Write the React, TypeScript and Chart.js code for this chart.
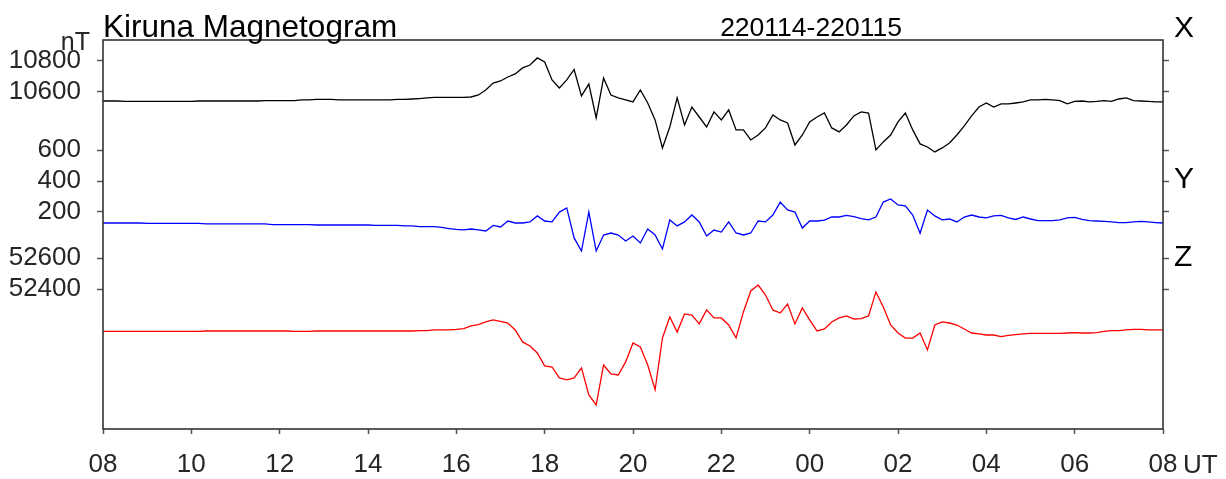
import React, { useEffect, useRef } from "react";
import { Chart, registerables } from "chart.js";

Chart.register(...registerables);

// ---------- text ----------
const TITLE = "Kiruna Magnetogram";
const DATE_RANGE = "220114-220115";
const UNIT = "nT";
const COMPONENT_NAMES = ["X", "Y", "Z"];
const TIME_UNIT = "UT";
const HOUR_LABELS = ["08", "10", "12", "14", "16", "18", "20", "22", "00", "02", "04", "06", "08"];

// ---------- data (10-minute samples from 08 UT) ----------
const SAMPLE_MINUTES = 10;

const X_NT = [
  10540, 10540, 10540, 10537, 10537, 10537, 10537, 10537, 10537, 10537,
  10537, 10537, 10537, 10540, 10540, 10540, 10540, 10540, 10540, 10540,
  10540, 10540, 10543, 10543, 10543, 10543, 10543, 10547, 10547, 10550,
  10550, 10550, 10547, 10547, 10547, 10547, 10547, 10547, 10547, 10547,
  10550, 10550, 10553, 10556, 10560, 10563, 10563, 10563, 10563, 10563,
  10566, 10579, 10612, 10657, 10670, 10696, 10716, 10755, 10774, 10820,
  10794, 10677, 10625, 10677, 10745, 10573, 10650, 10430, 10690, 10579,
  10560, 10547, 10534, 10612, 10527, 10417, 10235, 10371, 10560, 10384,
  10501, 10436, 10371, 10469, 10417, 10482, 10352, 10352, 10287, 10319,
  10365, 10449, 10417, 10397, 10254, 10319, 10404, 10436, 10462, 10365,
  10339, 10384, 10443, 10469, 10462, 10222, 10274, 10319, 10404, 10462,
  10352, 10261, 10241, 10209, 10235, 10267, 10319, 10378, 10443, 10501,
  10527, 10501, 10521, 10521, 10527, 10534, 10547, 10547, 10550, 10547,
  10543, 10521, 10537, 10540, 10534, 10537, 10543, 10537, 10553, 10560,
  10543, 10540, 10537, 10534, 10534,
];

const Y_NT = [
  127, 127, 127, 127, 127, 127, 124, 124, 124, 124,
  124, 124, 124, 124, 121, 121, 121, 121, 121, 121,
  121, 121, 121, 117, 117, 117, 117, 117, 117, 114,
  114, 114, 114, 114, 114, 114, 114, 111, 111, 111,
  111, 108, 108, 104, 104, 103, 98, 91, 85, 82,
  88, 82, 75, 111, 101, 140, 127, 127, 134, 173,
  140, 134, 198, 225, 30, -55, 198, -55, 49, 62,
  49, 10, 42, -3, 88, 49, -42, 147, 108, 134,
  179, 134, 42, 81, 68, 134, 62, 49, 62, 140,
  134, 179, 263, 212, 198, 94, 140, 140, 146, 166,
  166, 176, 169, 156, 147, 166, 263, 283, 244, 238,
  179, 60, 211, 173, 147, 153, 134, 166, 179, 166,
  160, 173, 176, 160, 150, 166, 153, 143, 143, 143,
  147, 160, 163, 150, 143, 140, 137, 134, 130, 130,
  134, 137, 134, 130, 127,
];

const Z_NT = [
  52124, 52124, 52124, 52124, 52124, 52124, 52124, 52124, 52124, 52124,
  52124, 52124, 52124, 52124, 52127, 52127, 52127, 52127, 52127, 52127,
  52127, 52127, 52127, 52127, 52127, 52127, 52124, 52124, 52124, 52127,
  52127, 52127, 52127, 52127, 52127, 52127, 52127, 52127, 52127, 52127,
  52127, 52127, 52127, 52130, 52130, 52134, 52134, 52134, 52137, 52143,
  52160, 52169, 52186, 52199, 52189, 52179, 52134, 52056, 52030, 51984,
  51900, 51893, 51822, 51809, 51822, 51887, 51711, 51646, 51906, 51848,
  51841, 51926, 52049, 52023, 51906, 51745, 52082, 52218, 52120, 52238,
  52231, 52173, 52264, 52212, 52212, 52166, 52082, 52251, 52387, 52426,
  52361, 52264, 52244, 52303, 52173, 52277, 52199, 52127, 52140, 52186,
  52212, 52225, 52205, 52208, 52225, 52381, 52283, 52166, 52114, 52081,
  52081, 52114, 52004, 52166, 52186, 52179, 52166, 52140, 52114, 52108,
  52101, 52101, 52091, 52098, 52104, 52108, 52111, 52111, 52111, 52111,
  52111, 52114, 52117, 52114, 52114, 52117, 52124, 52130, 52130, 52134,
  52137, 52137, 52134, 52134, 52134,
];

// tick labels of each component (nT)
const X_TICKS = [10800, 10600];
const Y_TICKS = [600, 400, 200];
const Z_TICKS = [52600, 52400];

// ---------- stacking of the three panels on a shared nT scale ----------
const X_SHIFT = 0;
const Y_SHIFT = 9620;
const Z_SHIFT = -43082;
const AXIS_MAX = 10936.5;
const AXIS_MIN = 8408;

const FONT = '"Liberation Sans", Arial, Helvetica, sans-serif';
const TEXT_COLOR = "#262626";
const FRAME_COLOR = "#333333";

const tickEntries = [
  ...X_TICKS.map((t) => ({ value: t + X_SHIFT, label: String(t) })),
  ...Y_TICKS.map((t) => ({ value: t + Y_SHIFT, label: String(t) })),
  ...Z_TICKS.map((t) => ({ value: t + Z_SHIFT, label: String(t) })),
];

const toPoints = (arr: number[], shift: number) =>
  arr.map((v, i) => ({ x: (i * SAMPLE_MINUTES) / 60, y: v + shift }));

const decorPlugin = {
  id: "decor",
  afterDraw(chart: any) {
    const { ctx, chartArea } = chart;
    ctx.save();
    // frame
    ctx.strokeStyle = FRAME_COLOR;
    ctx.lineWidth = 1.6;
    ctx.strokeRect(chartArea.left, chartArea.top, chartArea.right - chartArea.left, chartArea.bottom - chartArea.top);

    ctx.fillStyle = "#000";
    ctx.textBaseline = "alphabetic";
    ctx.textAlign = "left";
    ctx.font = `31.5px ${FONT}`;
    ctx.fillText(TITLE, chartArea.left, 37);

    ctx.textAlign = "center";
    ctx.font = `26.5px ${FONT}`;
    ctx.fillText(DATE_RANGE, 811, 36);

    ctx.fillStyle = TEXT_COLOR;
    ctx.textAlign = "right";
    ctx.font = `25px ${FONT}`;
    ctx.fillText(UNIT, 90, 50);

    // component names at right
    ctx.fillStyle = "#000";
    ctx.textAlign = "left";
    ctx.textBaseline = "middle";
    ctx.font = `30px ${FONT}`;
    const ys = [29, 180, 258];
    COMPONENT_NAMES.forEach((n, i) => ctx.fillText(n, chartArea.right + 11, ys[i]));

    // UT after last hour label
    ctx.fillStyle = TEXT_COLOR;
    ctx.font = `26px ${FONT}`;
    ctx.fillText(TIME_UNIT, chartArea.right + 20, 466);
    ctx.restore();
  },
};

export default function App() {
  const ref = useRef<HTMLCanvasElement | null>(null);

  useEffect(() => {
    if (!ref.current) return;
    const yTickCommon = {
      type: "linear" as const,
      min: AXIS_MIN,
      max: AXIS_MAX,
      afterBuildTicks: (s: any) => {
        s.ticks = tickEntries.map((t) => ({ value: t.value }));
      },
      grid: {
        drawOnChartArea: false,
        drawTicks: true,
        tickLength: 6,
        tickColor: "#555",
        tickWidth: 1.5,
      },
      border: { display: false },
    };
    const chart = new Chart(ref.current, {
      type: "line",
      data: {
        datasets: [
          { data: toPoints(X_NT, X_SHIFT), borderColor: "#000000", borderWidth: 1.3, pointRadius: 0, tension: 0 },
          { data: toPoints(Y_NT, Y_SHIFT), borderColor: "#0000ff", borderWidth: 1.3, pointRadius: 0, tension: 0 },
          { data: toPoints(Z_NT, Z_SHIFT), borderColor: "#ff0000", borderWidth: 1.3, pointRadius: 0, tension: 0 },
        ],
      },
      options: {
        responsive: false,
        animation: false,
        parsing: false,
        layout: { padding: { top: 40, left: 0, right: 0, bottom: 0 } },
        plugins: { legend: { display: false }, tooltip: { enabled: false }, title: { display: false } },
        scales: {
          x: {
            type: "linear",
            position: "bottom",
            min: 0,
            max: 24,
            afterBuildTicks: (s: any) => {
              s.ticks = HOUR_LABELS.map((_, i) => ({ value: i * 2 }));
            },
            afterFit: (s: any) => {
              s.height = 50;
            },
            ticks: {
              autoSkip: false,
              maxRotation: 0,
              padding: 15,
              color: TEXT_COLOR,
              font: { family: FONT, size: 26 },
              callback: (_v: any, i: number) => HOUR_LABELS[i],
            },
            grid: { drawOnChartArea: false, drawTicks: true, tickLength: 5, tickColor: "#555", tickWidth: 1.5 },
            border: { display: false },
          },
          y: {
            ...yTickCommon,
            position: "left",
            afterFit: (s: any) => {
              s.width = 103;
            },
            ticks: {
              autoSkip: false,
              padding: 16,
              color: TEXT_COLOR,
              font: { family: FONT, size: 26 },
              callback: (_v: any, i: number) => tickEntries[i]?.label ?? "",
            },
          },
          y2: {
            ...yTickCommon,
            position: "right",
            afterFit: (s: any) => {
              s.width = 63;
            },
            ticks: { display: false, autoSkip: false },
          },
        },
      } as any,
      plugins: [decorPlugin],
    });
    return () => chart.destroy();
  }, []);

  return (
    <div style={{ position: "absolute", left: 0, top: 0, width: 1226, height: 479, background: "#fff" }}>
      <canvas ref={ref} width={1226} height={479} style={{ display: "block", width: 1226, height: 479 }} />
    </div>
  );
}
